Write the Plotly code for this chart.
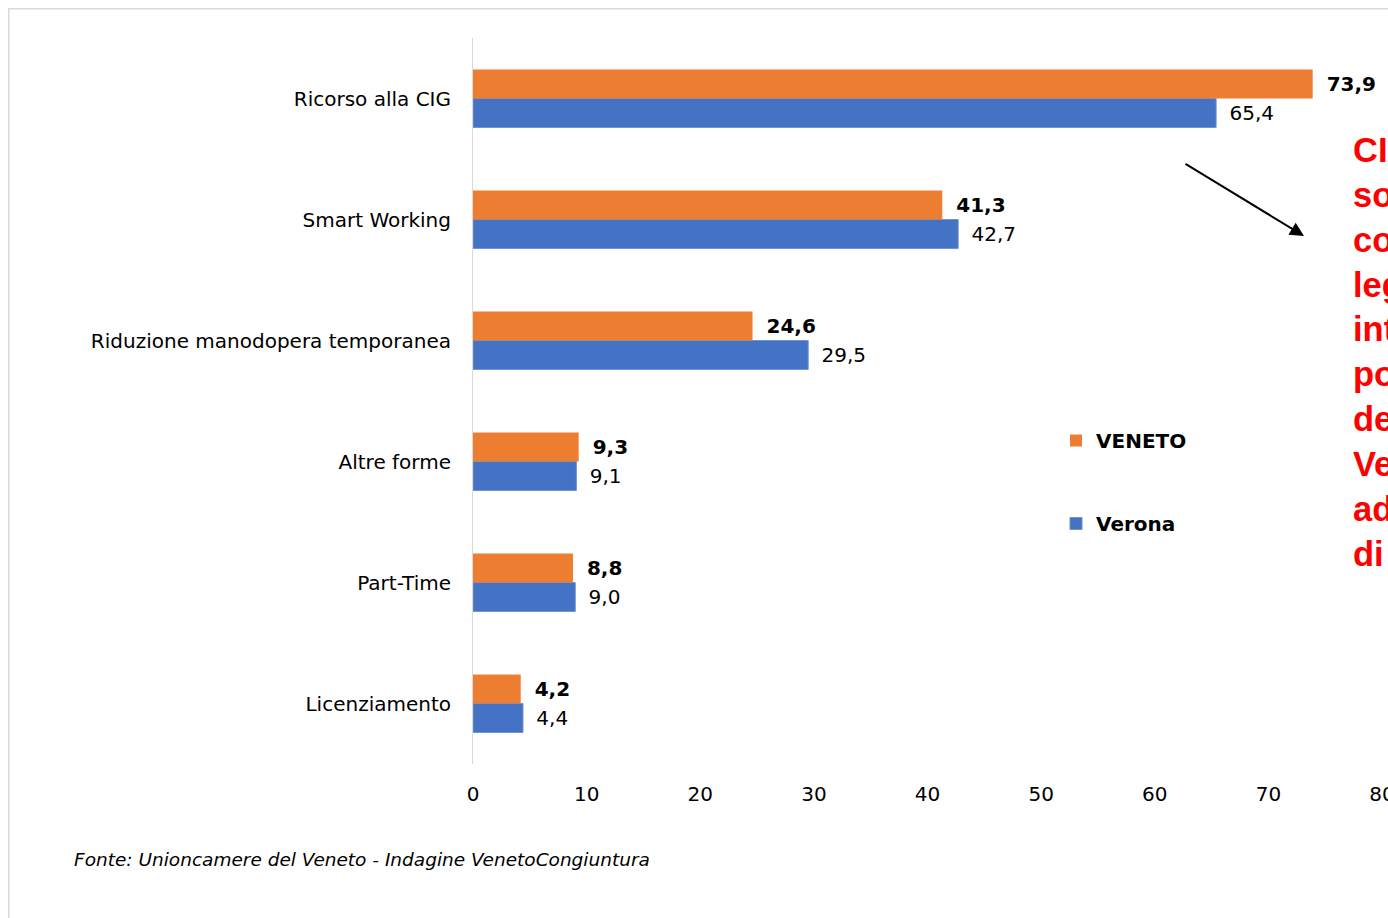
import plotly.graph_objects as go

categories = ["Ricorso alla CIG", "Smart Working", "Riduzione manodopera temporanea",
              "Altre forme", "Part-Time", "Licenziamento"]
veneto = [73.9, 41.3, 24.6, 9.3, 8.8, 4.2]
verona = [65.4, 42.7, 29.5, 9.1, 9.0, 4.4]
x_ticks = [0, 10, 20, 30, 40, 50, 60, 70, 80]
red_note = ["CIG", "sono", "con", "legge", "intera", "posti", "del", "Veneto", "ad", "di"]
source = "Fonte: Unioncamere del Veneto - Indagine VenetoCongiuntura"

ORANGE = "#ED7D31"
BLUE = "#4472C4"
FONT = "DejaVu Sans"

W, H = 1388, 918
ML, MR, MT, MB = 473, 6, 38, 154
PW, PH = W - ML - MR, H - MT - MB


def px_to_paper(px, py):
    """picture pixel -> paper coordinates"""
    return (px - ML) / PW, (H - MB - py) / PH


def fmt(v):
    return "\u00a0\u2009" + f"{v:.1f}".replace(".", ",")


fig = go.Figure()
fig.add_trace(go.Bar(
    y=categories, x=verona, orientation="h", name="Verona",
    marker=dict(color=BLUE, line=dict(color="#6f93d6", width=1)),
    text=[fmt(v) for v in verona], textposition="outside",
    textfont=dict(family=FONT, size=20, color="#000000"),
    cliponaxis=False, legendrank=2, legendgroup="b",
))
fig.add_trace(go.Bar(
    y=categories, x=veneto, orientation="h", name="VENETO",
    marker=dict(color=ORANGE, line=dict(width=0)),
    text=[fmt(v) for v in veneto], textposition="outside",
    textfont=dict(family=FONT, size=20, color="#000000", weight="bold"),
    cliponaxis=False, legendrank=1, legendgroup="a",
))

fig.update_layout(
    width=W, height=H,
    margin=dict(l=ML, r=MR, t=MT, b=MB, autoexpand=False),
    paper_bgcolor="white", plot_bgcolor="white",
    barmode="group", bargap=0.52, bargroupgap=0,
    font=dict(family=FONT, size=20, color="#000000"),
    showlegend=True,
    legend=dict(x=px_to_paper(1056, 0)[0], y=px_to_paper(0, 421)[1],
                xanchor="left", yanchor="top",
                font=dict(family=FONT, size=20, color="#000000", weight="bold"),
                tracegroupgap=54, bgcolor="rgba(0,0,0,0)"),
    xaxis=dict(range=[0, 80], tickvals=x_ticks, ticktext=[str(t) for t in x_ticks],
               showgrid=False, zeroline=False, showline=False, ticks="",
               tickfont=dict(family=FONT, size=20), ticklabelstandoff=16,
               ticklabeloverflow="allow"),
    yaxis=dict(categoryorder="array", categoryarray=list(reversed(categories)),
               showgrid=False, zeroline=False, showline=True, linecolor="#d9d9d9",
               linewidth=1, ticks="", ticklabelstandoff=17,
               tickfont=dict(family=FONT, size=20)),
)

# outer border of the chart area
bx0, by0 = px_to_paper(8.75, 8.75)
bx1, by1 = px_to_paper(1400, 930)
fig.add_shape(type="rect", xref="paper", yref="paper", x0=bx0, y0=by1, x1=bx1, y1=by0,
              line=dict(color="#d9d9d9", width=1.5), fillcolor="rgba(0,0,0,0)", layer="below")

# arrow
hx, hy = px_to_paper(1304, 236)
fig.add_annotation(xref="paper", yref="paper", x=hx, y=hy, ax=-120, ay=-73,
                   axref="pixel", ayref="pixel", text="", showarrow=True,
                   arrowhead=2, arrowsize=1.4, arrowwidth=2, arrowcolor="#000000")

# red note (clipped at the right edge, as in the original)
nx, ny = px_to_paper(1351, 129)
fig.add_annotation(xref="paper", yref="paper", x=nx, y=ny, xanchor="left", yanchor="top",
                   text="<br>".join(red_note), showarrow=False, align="left",
                   font=dict(family="Liberation Sans", size=34.5, color="#FF0000", weight="bold"))

# source
sx, sy = px_to_paper(72, 859)
fig.add_annotation(xref="paper", yref="paper", x=sx, y=sy, xanchor="left", yanchor="middle",
                   text="<i>" + source + "</i>", showarrow=False,
                   font=dict(family=FONT, size=18.5, color="#000000"))

fig.write_html("out.html",
               config={"displayModeBar": False},
               post_script="document.body.style.margin='0';document.body.style.overflow='hidden';")
